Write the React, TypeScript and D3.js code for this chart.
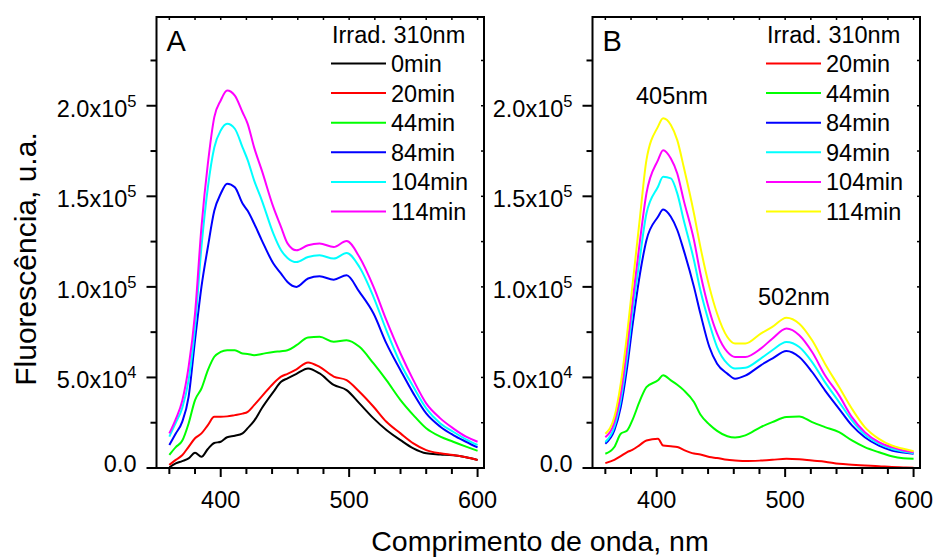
import React, { useEffect, useRef } from "react"
import * as d3 from "d3"

// intensities are in units of 10^3 (u.a.)
const wlA = [360, 365, 370, 375, 380, 385, 390, 395, 400, 405, 411, 417, 421, 426, 432, 441, 447, 452, 459, 468, 477, 488, 498, 508, 519, 529, 540, 550, 560, 571, 581, 591, 600]
const a0 = [0.4, 2.5, 3.8, 5.3, 8.4, 6.2, 10.5, 13.8, 14.5, 17, 17.8, 19.1, 22, 26, 33, 42, 47.6, 49.5, 52, 55, 52.2, 45.9, 43, 35.7, 27.4, 21, 15.4, 10.8, 8.1, 7.5, 7, 5.9, 4.4]
const a20 = [1.7, 4.5, 7, 11.7, 16.4, 19.1, 23.7, 28.3, 28.3, 28.5, 29.2, 30, 31, 34.7, 39.5, 46.7, 50.4, 52, 54.5, 58.3, 55.8, 50.5, 48.5, 42.1, 33.8, 25.5, 19.1, 13.6, 9.9, 8.1, 7.2, 5.9, 4.4]
const a44 = [7.2, 11.5, 15, 24.6, 37.5, 43.9, 54, 61.4, 64.1, 65, 65, 63.2, 63, 62.3, 63, 64.1, 64.5, 65, 67.8, 72, 72.4, 69.7, 70.6, 66.9, 57.7, 48.5, 37.5, 29.2, 21.9, 17.3, 14.5, 11.8, 9.5]
const a84 = [12.7, 19, 25.5, 39.3, 70.6, 100, 122, 142, 151.4, 157, 155, 146, 142, 135, 125.7, 112.9, 107.3, 102.7, 100, 104.6, 105.8, 104, 106.4, 97.2, 85.3, 68.8, 54, 41.2, 30.1, 22.8, 18.2, 14.5, 11.4]
const a104 = [17.3, 25, 33, 48.5, 77.9, 122, 155, 177, 186.3, 190, 187.3, 177, 170, 158.8, 147.8, 129.4, 120.2, 116, 113.7, 116.5, 117.4, 115.6, 118.7, 111, 94.4, 76, 57.7, 44.8, 32.9, 24.6, 20, 15.8, 12.7]
const a114 = [19.1, 27, 37, 55.8, 85.3, 133, 168, 193.7, 202.9, 208.4, 205.6, 196.4, 190, 177, 164.3, 144, 133, 124, 120.2, 123, 123.9, 122, 125.3, 116.5, 100, 81.6, 63.2, 48.5, 35.7, 27.4, 21.9, 17.3, 14.5]

const wlB = [360, 367, 372, 377, 381, 387, 392, 401, 405, 411, 416, 421, 429, 434, 441, 447, 455, 461, 469, 481, 490, 501, 511, 521, 531, 542, 552, 562, 573, 583, 592, 600]
const b20 = [2.7, 4.5, 6.5, 8.8, 10, 12.8, 15.2, 16.1, 12.4, 12, 11.6, 10, 8, 7.5, 6.1, 5.5, 4.5, 4.2, 3.8, 4.1, 4.5, 5.1, 4.8, 4.1, 3.5, 2.3, 1.8, 1.4, 1, 0.5, 0.3, 0.1]
const b44 = [7.9, 11.6, 18.9, 20.7, 26.3, 37.3, 44.7, 48.4, 51.2, 48.4, 46, 43, 36.4, 29.5, 24, 20.5, 17.5, 16.8, 18, 22.6, 25.3, 28.1, 28.5, 25.3, 22.6, 19.8, 15.2, 11.5, 8.7, 6.5, 5.4, 5.1]
const b84 = [13.4, 20.7, 33.6, 55.7, 77.9, 107.4, 125.8, 138.7, 142.7, 138.7, 131.4, 120.3, 100, 85.3, 66.8, 57.6, 52.1, 49.3, 51, 56.7, 60.4, 64.6, 61.3, 53, 42.9, 32.7, 23.5, 17, 12.4, 9.7, 8.5, 7.9]
const b94 = [14.3, 22.6, 37.3, 61.3, 85.3, 116.6, 140.5, 155.3, 160.8, 159.9, 151.6, 136.9, 114.7, 98.1, 79.8, 66.8, 57.6, 54.9, 55.3, 60.4, 65, 69.6, 66.8, 58.5, 47.4, 36.4, 26.3, 18.5, 13.5, 10.6, 9.1, 8.2]
const b104 = [17, 25.3, 41, 66.8, 90.8, 125.8, 151.6, 170, 175.5, 170.9, 162.6, 147.9, 125.8, 107.4, 87, 74.2, 64.1, 61.3, 61.3, 65.9, 71.4, 77, 73.3, 64, 51.2, 40.1, 28.1, 19.8, 14.3, 11.5, 9.7, 8.7]
const b114 = [18.9, 28.1, 46.6, 74.2, 100, 138.7, 170, 188.5, 193.1, 189.4, 181, 166.3, 140.5, 122.1, 100, 85.3, 72.3, 68.7, 68.7, 74.2, 77.9, 83, 79.7, 70.5, 57.6, 44.7, 32.7, 22.6, 16.1, 12.4, 10.6, 9.3]

const namesA = ["0min", "20min", "44min", "84min", "104min", "114min"]
const colorsA = ["#000000", "#ff0000", "#00ff00", "#0000ff", "#00ffff", "#ff00ff"]
const namesB = ["20min", "44min", "84min", "94min", "104min", "114min"]
const colorsB = ["#ff0000", "#00ff00", "#0000ff", "#00ffff", "#ff00ff", "#ffff00"]

const xTickLabels = [400, 500, 600]
const yTickBase = ["0.0", "5.0x10", "1.0x10", "1.5x10", "2.0x10"]
const yTickExp = ["", "4", "5", "5", "5"]

const FONT = "'Liberation Sans', Arial, sans-serif"

function drawPanel(svg: any, p: any) {
    const top = 17, bottom = 468
    const x = d3.scaleLinear().domain([350, 605]).range([p.left, p.right])
    const y = d3.scaleLinear().domain([0, 249]).range([bottom, top])
    const g = svg.append("g")

    // curves
    const line = d3.line<number>()
        .x((d, i) => x(p.wl[i]))
        .y(d => y(d))
        .curve(d3.curveMonotoneX)
    p.series.forEach((s: number[], k: number) => {
        g.append("path")
            .attr("d", line(s))
            .attr("fill", "none")
            .attr("stroke", p.colors[k])
            .attr("stroke-width", 2)
            .attr("stroke-linejoin", "round")
    })

    // frame
    g.append("rect")
        .attr("x", p.left).attr("y", top)
        .attr("width", p.right - p.left).attr("height", bottom - top)
        .attr("fill", "none").attr("stroke", "#000").attr("stroke-width", 2)

    const xt = d3.range(360, 601, 20)
    g.append("g").selectAll("line").data(xt).enter().append("line")
        .attr("x1", d => x(d)).attr("x2", d => x(d))
        .attr("y1", bottom).attr("y2", d => bottom + (d % 100 === 0 ? 9 : 6))
        .attr("stroke", "#000").attr("stroke-width", 2)
    g.append("g").selectAll("line").data(xt).enter().append("line")
        .attr("x1", d => x(d)).attr("x2", d => x(d))
        .attr("y1", top).attr("y2", top + 3)
        .attr("stroke", "#000").attr("stroke-width", 1.5)
    g.append("g").selectAll("text").data(xTickLabels).enter().append("text")
        .attr("x", d => x(d)).attr("y", 508)
        .attr("text-anchor", "middle")
        .attr("font-family", FONT).attr("font-size", 23.5)
        .text(d => d)

    const yt = d3.range(0, 226, 25)
    g.append("g").selectAll("line").data(yt).enter().append("line")
        .attr("x1", p.left).attr("x2", d => p.left - (d % 50 === 0 ? 10 : 6))
        .attr("y1", d => y(d)).attr("y2", d => y(d))
        .attr("stroke", "#000").attr("stroke-width", 2)
    g.append("g").selectAll("line").data(yt).enter().append("line")
        .attr("x1", p.right).attr("x2", p.right - 3)
        .attr("y1", d => y(d)).attr("y2", d => y(d))
        .attr("stroke", "#000").attr("stroke-width", 1.5)

    const lab = g.append("g").selectAll("text").data(yTickBase).enter().append("text")
        .attr("x", p.left - 20)
        .attr("y", (d, i) => y(i * 50) + (i === 0 ? 3.5 : 11))
        .attr("text-anchor", "end")
        .attr("font-family", FONT).attr("font-size", 23.5)
    lab.append("tspan").text(d => d)
    lab.append("tspan")
        .attr("font-size", 16.5)
        .attr("dy", -10)
        .text((d, i) => yTickExp[i])

    // panel letter
    g.append("text").attr("x", p.left + 10).attr("y", 51)
        .attr("font-family", FONT).attr("font-size", 29).text(p.label)

    // legend
    g.append("text").attr("x", p.legX + 1).attr("y", 43)
        .attr("font-family", FONT).attr("font-size", 23.5).text("Irrad. 310nm")
    const rows = g.append("g").selectAll("g").data(p.names).enter().append("g")
        .attr("transform", (d, i) => "translate(0," + (63.5 + i * 29.6) + ")")
    rows.append("line")
        .attr("x1", p.legX).attr("x2", p.legX + 55)
        .attr("stroke", (d, i) => p.colors[i]).attr("stroke-width", 2)
    rows.append("text")
        .attr("x", p.legX + 60).attr("y", 8.5)
        .attr("font-family", FONT).attr("font-size", 23.5)
        .text(d => d)
    return g
}

export default function App() {
    const ref = useRef<SVGSVGElement>(null)

    useEffect(() => {
        const svg = d3.select(ref.current)
        svg.selectAll("*").remove()

        drawPanel(svg, {
            left: 156.5, right: 484, wl: wlA, label: "A", legX: 331,
            series: [a0, a20, a44, a84, a104, a114], names: namesA, colors: colorsA
        })
        const gb = drawPanel(svg, {
            left: 592.5, right: 920, wl: wlB, label: "B", legX: 766,
            series: [b20, b44, b84, b94, b104, b114], names: namesB, colors: colorsB
        })
        gb.append("text").attr("x", 636).attr("y", 104)
            .attr("font-family", FONT).attr("font-size", 23.5).text("405nm")
        gb.append("text").attr("x", 758).attr("y", 305)
            .attr("font-family", FONT).attr("font-size", 23.5).text("502nm")

        svg.append("text")
            .attr("x", 540).attr("y", 551)
            .attr("text-anchor", "middle")
            .attr("font-family", FONT).attr("font-size", 28.5)
            .text("Comprimento de onda, nm")
        svg.append("text")
            .attr("transform", "translate(36,259) rotate(-90)")
            .attr("text-anchor", "middle")
            .attr("font-family", FONT).attr("font-size", 30)
            .text("Fluorescência, u.a.")
    }, [])

    return (
        <svg ref={ref} width={936} height={557}
            style={{ position: "absolute", left: 0, top: 0, background: "#fff" }} />
    )
}
